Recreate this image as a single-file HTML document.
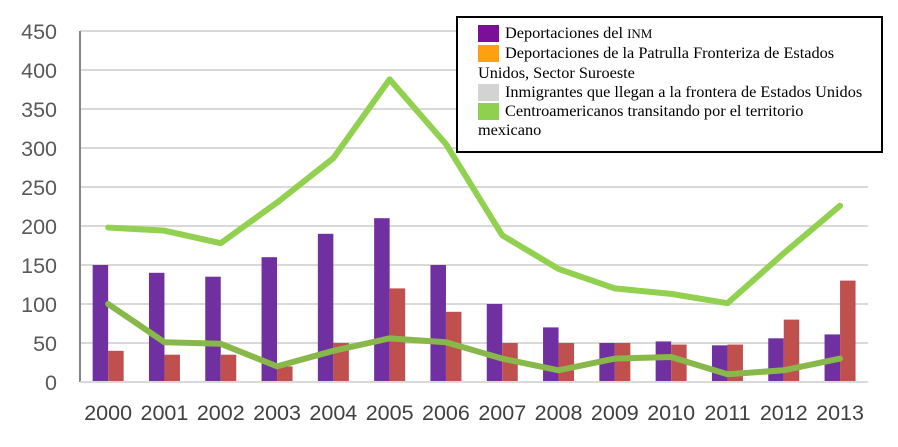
<!DOCTYPE html>
<html><head><meta charset="utf-8"><style>
body{margin:0;background:#fff;}
#legend{position:absolute;left:456px;top:16px;width:427px;height:137px;border:2px solid #000;background:#fff;font-family:"Liberation Serif",serif;font-size:16.3px;line-height:19.3px;color:#000;padding:5px 0 0 0;box-sizing:border-box}
.le{padding-left:20px;position:relative}
.sw{position:absolute;left:20px;top:2px;width:21px;height:17px}
.le span.t{padding-left:27px}
</style></head><body>
<div style="position:relative;width:898px;height:447px">
<svg id="svg" width="898" height="447" style="position:absolute;left:0;top:0"></svg>
<div id="legend">
 <div class="le"><div class="sw" style="background:#7a0f98"></div><span class="t">Deportaciones del <span style="font-size:13px">INM</span></span></div>
 <div class="le" style="padding-left:0"><div class="sw" style="background:#ffa010"></div><span style="padding-left:47px">Deportaciones de la Patrulla Fronteriza de Estados</span><br><span style="padding-left:20px">Unidos, Sector Suroeste</span></div>
 <div class="le"><div class="sw" style="background:#d3d3d3"></div><span class="t">Inmigrantes que llegan a la frontera de Estados Unidos</span></div>
 <div class="le" style="padding-left:0"><div class="sw" style="background:#8fd14f"></div><span style="padding-left:47px">Centroamericanos transitando por el territorio</span><br><span style="padding-left:20px">mexicano</span></div>
</div>
</div>
<script>
const years=["2000","2001","2002","2003","2004","2005","2006","2007","2008","2009","2010","2011","2012","2013"];
const inm=[150,140,135,160,190,210,150,100,70,50,52,47,56,61];
const patrulla=[40,35,35,20,50,120,90,50,50,50,48,48,80,130];
const centro=[198,194,178,230,287,388,305,188,145,120,113,101,165,226];
const inmigrantes=[100,51,49,20,40,56,51,30,15,30,32,10,15,30];
const yTicks=[0,50,100,150,200,250,300,350,400,450];
const svg=document.getElementById('svg');const NS='http://www.w3.org/2000/svg';
const x0=80,step=56.3,yb=382,ppu=351/450;
const y=v=>yb-v*ppu, xc=i=>x0+step*(i+0.5);
function mk(t,a){const e=document.createElementNS(NS,t);for(const k in a)e.setAttribute(k,a[k]);svg.appendChild(e);return e;}
yTicks.forEach(v=>{
 const g=mk('line',{x1:x0,x2:868,y1:y(v),y2:y(v),stroke:'#d9d9d9','stroke-width':2});
 
 
 const t=mk('text',{x:57,y:y(v)+8,'text-anchor':'end','font-family':'Liberation Sans, sans-serif','font-size':21.5,fill:'#595959'});t.textContent=v;
 
 
});
years.forEach((yr,i)=>{
 const t=mk('text',{x:xc(i),y:420,'text-anchor':'middle','font-family':'Liberation Sans, sans-serif','font-size':21.5,fill:'#404040'});t.textContent=yr;
 
 
 const b1=mk('rect',{x:xc(i)-15.5,y:y(inm[i]),width:15.5,height:inm[i]*ppu,fill:'#7030a0'});
 
 
 const b2=mk('rect',{x:xc(i),y:y(patrulla[i]),width:15.5,height:patrulla[i]*ppu,fill:'#c0504d'});
 
 
});
const ax=mk('line',{x1:x0,x2:x0,y1:y(450),y2:yb,stroke:'#868686','stroke-width':2});


const bl=mk('line',{x1:x0,x2:868,y1:yb,y2:yb,stroke:'#d9d9d9','stroke-width':2});


const l1=mk('polyline',{points:centro.map((v,i)=>xc(i)+','+y(v)).join(' '),fill:'none',stroke:'#92d050','stroke-width':6,'stroke-linejoin':'round','stroke-linecap':'round'});


const l2=mk('polyline',{points:inmigrantes.map((v,i)=>xc(i)+','+y(v)).join(' '),fill:'none',stroke:'#88b84a','stroke-width':6,'stroke-linejoin':'round','stroke-linecap':'round'});


</script>
</body></html>
